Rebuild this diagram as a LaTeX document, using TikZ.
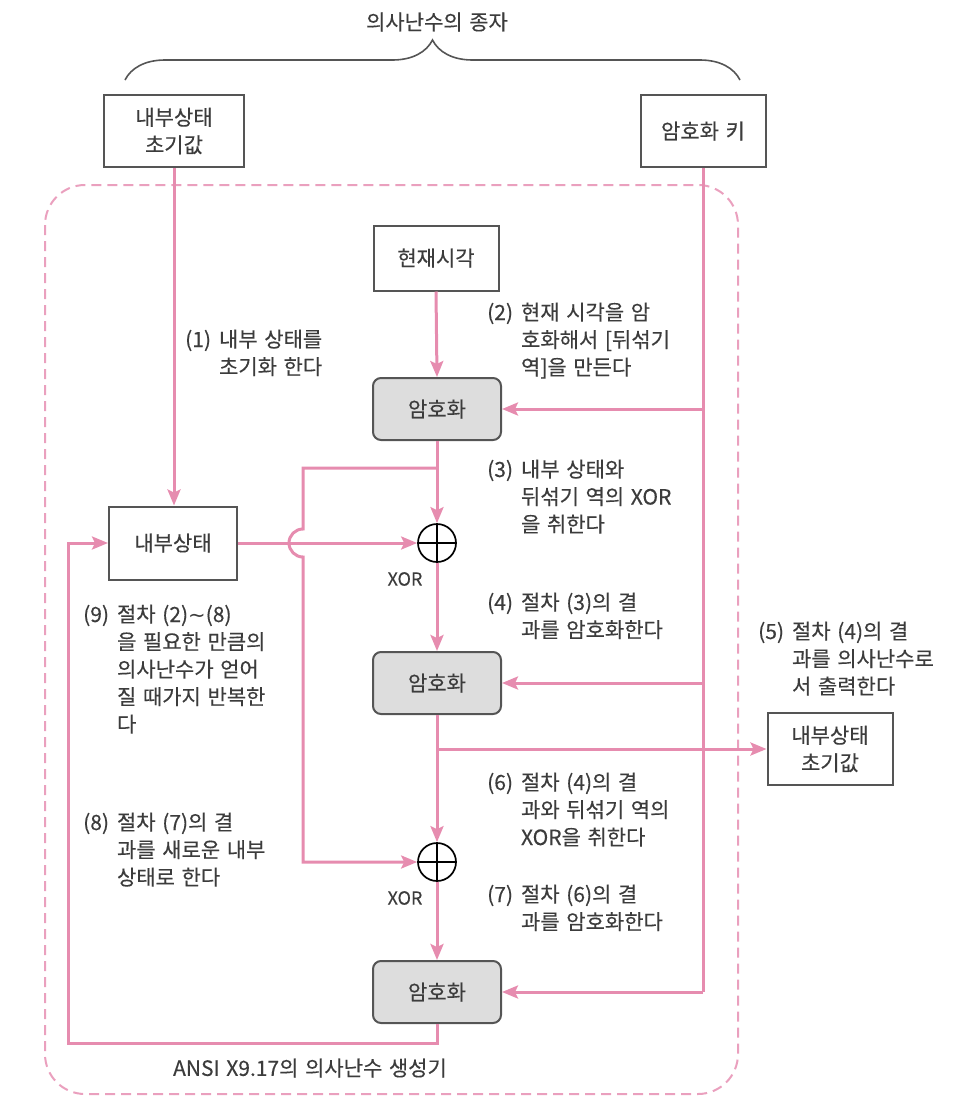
\documentclass[tikz,border=0pt]{standalone}
\usepackage{fontspec}
\setmainfont{Noto Sans CJK KR}[FakeBold=0.3, WordSpace=1.4]
\newfontfamily\symfont{DejaVu Sans}
\usetikzlibrary{arrows.meta,decorations.pathreplacing,calc}
\definecolor{pk}{RGB}{230,140,175}
\definecolor{pkd}{RGB}{234,160,190}
\definecolor{bx}{RGB}{85,85,85}
\definecolor{tx}{RGB}{60,60,60}
\definecolor{gfill}{RGB}{221,221,221}
\newcommand{\hanglbl}[2]{\begin{tabular}[t]{@{}l@{\hspace{8pt}}l@{}}#1&\begin{tabular}[t]{@{}l@{}}#2\end{tabular}\end{tabular}}
\begin{document}
\begin{tikzpicture}[x=1pt,y=-1pt,
  every node/.style={font=\fontsize{21}{27.5}\selectfont, text=tx},
  plainbox/.style={draw=bx, line width=2pt, fill=white, align=center, inner sep=0pt},
  encbox/.style={draw=bx, line width=2pt, fill=gfill, rounded corners=8pt, minimum width=128pt, minimum height=62pt, inner sep=0pt},
  flow/.style={draw=pk, line width=3pt},
  arr/.style={flow, -{Stealth[length=16pt,width=13pt,inset=3pt]}},
  xorn/.style={circle, draw=black, line width=1.7pt, minimum size=38pt, inner sep=0pt,
    path picture={\draw[black,line width=1.7pt] (path picture bounding box.north) -- (path picture bounding box.south) (path picture bounding box.west) -- (path picture bounding box.east);}},
  lbl/.style={anchor=base west, inner sep=0pt, align=left},
  xorlbl/.style={font=\fontsize{18}{20}\selectfont, inner sep=0pt}
]
\useasboundingbox (0,0) rectangle (974,1120);
% frame
\draw[pkd, line width=2pt, dash pattern=on 10pt off 6pt, rounded corners=40pt] (45,185) rectangle (738,1094);
% title and brace
\node (title) at (437,22) {의사난수의 종자};
\draw[bx, line width=1.6pt, decorate, decoration={brace, amplitude=40pt}] (125,80) -- (740,80);
% boxes
\node[plainbox, minimum width=140pt, minimum height=72pt] (A) at (174,131) {내부상태\\초기값};
\node[plainbox, minimum width=125pt, minimum height=72pt] (K) at (703,131) {암호화 키};
\node[plainbox, minimum width=125pt, minimum height=65pt] (T) at (436,258) {현재시각};
\node[encbox] (E1) at (437,409) {암호화};
\node[plainbox, minimum width=128pt, minimum height=73pt] (S) at (173,543) {내부상태};
\node[xorn] (X1) at (437,543) {};
\node[encbox] (E2) at (437,683) {암호화};
\node[plainbox, minimum width=125pt, minimum height=72pt] (O) at (830,749) {내부상태\\초기값};
\node[xorn] (X2) at (437,862) {};
\node[encbox] (E3) at (437,992) {암호화};
\node[xorlbl] (xl1) at (405,579) {XOR};
\node[xorlbl] (xl2) at (405,898) {XOR};
% coordinates
\coordinate (b1) at (437,468);
\coordinate (b2) at (437,749);
% connectors
\draw[arr] (A.south) -- (A.south |- S.north);
\draw[arr] (T.south) -- (E1.north);
\draw[flow] (K.south) -- (K.south |- E3.east);
\draw[arr] (K.south |- E1.east) -- (E1.east);
\draw[arr] (K.south |- E2.east) -- (E2.east);
\draw[arr] (K.south |- E3.east) -- (E3.east);
\draw[arr] (E1.south) -- (X1.north);
\draw[arr] (b1) -- (303,468) -- (303,529) arc[start angle=270, end angle=90, radius=14] |- (X2.west);
\draw[arr] (S.east) -- (X1.west);
\draw[arr] (X1.south) -- (E2.north);
\draw[arr] (E2.south) -- (X2.north);
\draw[arr] (b2) -- (b2 -| O.west);
\draw[arr] (X2.south) -- (E3.north);
\draw[arr] (E3.south) |- (68,1043) |- (S.west);
% labels
\node[lbl] (l1) at (185,347) {\hanglbl{(1)}{내부 상태를\\초기화 한다}};
\node[lbl] (l2) at (487,320) {\hanglbl{(2)}{현재 시각을 암\\호화해서 [뒤섞기\\역]을 만든다}};
\node[lbl] (l3) at (487,477) {\hanglbl{(3)}{내부 상태와\\뒤섞기 역의 XOR\\을 취한다}};
\node[lbl] (l4) at (487,610) {\hanglbl{(4)}{절차 (3)의 결\\과를 암호화한다}};
\node[lbl] (l5) at (758,639) {\hanglbl{(5)}{절차 (4)의 결\\과를 의사난수로\\서 출력한다}};
\node[lbl] (l6) at (487,790) {\hanglbl{(6)}{절차 (4)의 결\\과와 뒤섞기 역의\\XOR을 취한다}};
\node[lbl] (l7) at (487,902) {\hanglbl{(7)}{절차 (6)의 결\\과를 암호화한다}};
\node[lbl] (l8) at (83,830) {\hanglbl{(8)}{절차 (7)의 결\\과를 새로운 내부\\상태로 한다}};
\node[lbl] (l9) at (83,622) {\hanglbl{(9)}{절차 (2){\symfont ∼}(8)\\을 필요한 만큼의\\의사난수가 얻어\\질 때가지 반복한\\다}};
\node (ansi) at (310,1068) {ANSI X9.17의 의사난수 생성기};
\end{tikzpicture}
\end{document}
